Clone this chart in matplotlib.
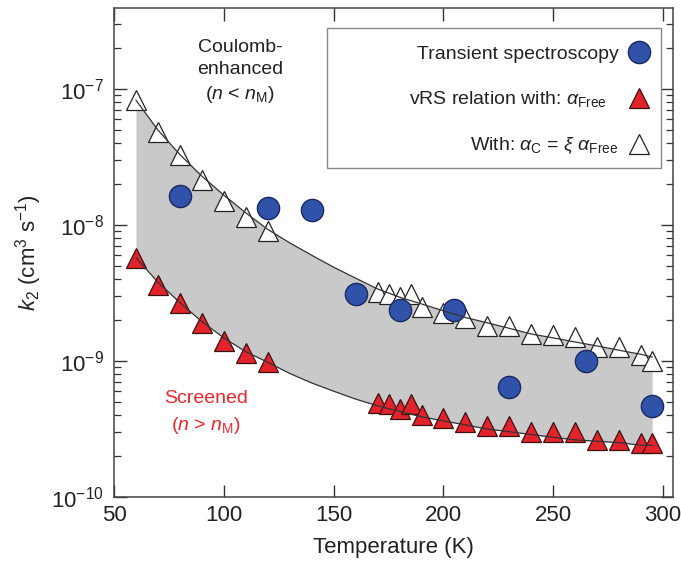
import matplotlib
matplotlib.use("Agg")
import matplotlib.pyplot as plt
from matplotlib.patches import Rectangle
from matplotlib.ticker import LogLocator, NullFormatter

plt.rcParams['font.family'] = ['Liberation Sans', 'DejaVu Sans']
plt.rcParams['mathtext.fontset'] = 'custom'
plt.rcParams['mathtext.rm'] = 'Liberation Sans'
plt.rcParams['mathtext.it'] = 'Liberation Sans:italic'
plt.rcParams['mathtext.bf'] = 'Liberation Sans:bold'

# datos
temp_tri = [60, 70, 80, 90, 100, 110, 120, 170, 175, 180, 185, 190, 200,
            210, 220, 230, 240, 250, 260, 270, 280, 290, 295]
k_coulomb = [8.3e-8, 4.8e-8, 3.3e-8, 2.14e-8, 1.51e-8, 1.15e-8, 9.1e-9,
             3.24e-9, 3.09e-9, 2.95e-9, 3.09e-9, 2.51e-9, 2.24e-9, 2.09e-9,
             1.82e-9, 1.82e-9, 1.58e-9, 1.55e-9, 1.51e-9, 1.26e-9, 1.26e-9,
             1.10e-9, 1.0e-9]
k_free = [5.75e-9, 3.63e-9, 2.69e-9, 1.91e-9, 1.41e-9, 1.15e-9, 9.8e-10,
          4.9e-10, 4.8e-10, 4.47e-10, 4.8e-10, 3.98e-10, 3.8e-10, 3.55e-10,
          3.31e-10, 3.31e-10, 3.02e-10, 3.02e-10, 3.02e-10, 2.63e-10,
          2.63e-10, 2.51e-10, 2.51e-10]

temp_exp = [80, 120, 140, 160, 180, 205, 230, 265, 295]
k_exp = [1.63e-8, 1.33e-8, 1.29e-8, 3.1e-9, 2.37e-9, 2.37e-9, 6.4e-10,
         1.0e-9, 4.7e-10]

temp_curve = [60, 70, 80, 90, 100, 110, 120, 130, 140, 150, 160, 170, 180,
              190, 200, 210, 220, 230, 240, 250, 260, 270, 280, 290, 295]
curve_upper = [8.3e-8, 5.0e-8, 3.3e-8, 2.29e-8, 1.66e-8, 1.23e-8, 9.3e-9,
               7.4e-9, 6.0e-9, 4.9e-9, 4.07e-9, 3.39e-9, 2.95e-9, 2.63e-9,
               2.34e-9, 2.09e-9, 1.91e-9, 1.74e-9, 1.58e-9, 1.48e-9,
               1.38e-9, 1.29e-9, 1.20e-9, 1.12e-9, 1.07e-9]
curve_lower = [5.75e-9, 3.8e-9, 2.69e-9, 1.95e-9, 1.48e-9, 1.17e-9, 9.8e-10,
               8.1e-10, 6.9e-10, 6.0e-10, 5.25e-10, 4.68e-10, 4.27e-10,
               3.89e-10, 3.63e-10, 3.39e-10, 3.16e-10, 3.02e-10, 2.88e-10,
               2.75e-10, 2.63e-10, 2.57e-10, 2.51e-10, 2.40e-10, 2.40e-10]

fig = plt.figure(figsize=(6.81, 5.61), dpi=100)
ax = fig.add_axes([0.1674, 0.1141, 0.8209, 0.8716])

ax.fill_between(temp_curve, curve_lower, curve_upper, color='#c9c9c9',
                linewidth=0, zorder=1)

ax.plot(temp_tri, k_free, linestyle='none', marker='^', markersize=14,
        markerfacecolor='#e3232b', markeredgecolor='#3a1010',
        markeredgewidth=0.9, zorder=3,
        label=r'vRS relation with: $\alpha_{\mathrm{Free}}$   ')
ax.plot(temp_tri, k_coulomb, linestyle='none', marker='^', markersize=14,
        markerfacecolor='white', markeredgecolor='#222222',
        markeredgewidth=0.9, zorder=3,
        label=r'With: $\alpha_{\mathrm{C}}$ = $\xi\ \alpha_{\mathrm{Free}}$')
ax.plot(temp_exp, k_exp, linestyle='none', marker='o', markersize=16,
        markerfacecolor='#3052a8', markeredgecolor='#1b2a60',
        markeredgewidth=1.0, zorder=4, label='Transient spectroscopy')

ax.plot(temp_curve, curve_upper, color='#333333', linewidth=0.9, zorder=5)
ax.plot(temp_curve, curve_lower, color='#333333', linewidth=0.9, zorder=5)

ax.set_yscale('log')
ax.set_xlim(50, 304.5)
ax.set_ylim(1e-10, 3.95e-7)
ax.set_xticks([50, 100, 150, 200, 250, 300])
ax.yaxis.set_major_locator(LogLocator(base=10, numticks=10))
ax.yaxis.set_minor_locator(LogLocator(base=10, subs=range(2, 10), numticks=20))
ax.yaxis.set_minor_formatter(NullFormatter())

ax.tick_params(which='both', direction='in', top=True, right=True,
               colors='#333333', labelcolor='#222222')
ax.tick_params(which='major', length=9, width=1.0, labelsize=16)
ax.tick_params(axis='x', which='major', pad=6)
ax.tick_params(axis='y', which='major', pad=7.5)
ax.tick_params(which='minor', length=5, width=0.9)
for s in ax.spines.values():
    s.set_color('#444444')
    s.set_linewidth(1.1)

ax.set_xlabel('Temperature (K)', fontsize=16, color='#222222', labelpad=8)
ax.set_ylabel(r'$k_2$ (cm$^3$ s$^{-1}$)', fontsize=16, color='#222222',
              labelpad=5)

ax.text(0.2254, 0.869, 'Coulomb-\nenhanced\n($n$ < $n_{\mathrm{M}}$)',
        transform=ax.transAxes, ha='center', va='center', fontsize=14,
        color='#222222', linespacing=1.42)
ax.text(0.1646, 0.172, 'Screened\n($n$ > $n_{\mathrm{M}}$)',
        transform=ax.transAxes, ha='center', va='center', fontsize=14,
        color='#e8272d', linespacing=1.5)

# caja de la leyenda
ax.add_patch(Rectangle((0.381, 0.6728), 0.5975, 0.2862,
                       transform=ax.transAxes, facecolor='white',
                       edgecolor='#888888', linewidth=1.0, zorder=6))

handles, labels = ax.get_legend_handles_labels()
order = [2, 0, 1]
leg = ax.legend([handles[i] for i in order], [labels[i] for i in order],
                loc='upper right', bbox_to_anchor=(0.991, 0.959),
                borderaxespad=0, markerfirst=False, fontsize=14,
                frameon=False, borderpad=0.9, labelspacing=1.35,
                handlelength=1.2, handletextpad=0.45, numpoints=1)
leg.set_zorder(7)
for t in leg.get_texts():
    t.set_color('#222222')
# alinear textos a la derecha
for col in leg._legend_handle_box.get_children():
    col.align = 'right'

fig.savefig('out.png', dpi=100)
